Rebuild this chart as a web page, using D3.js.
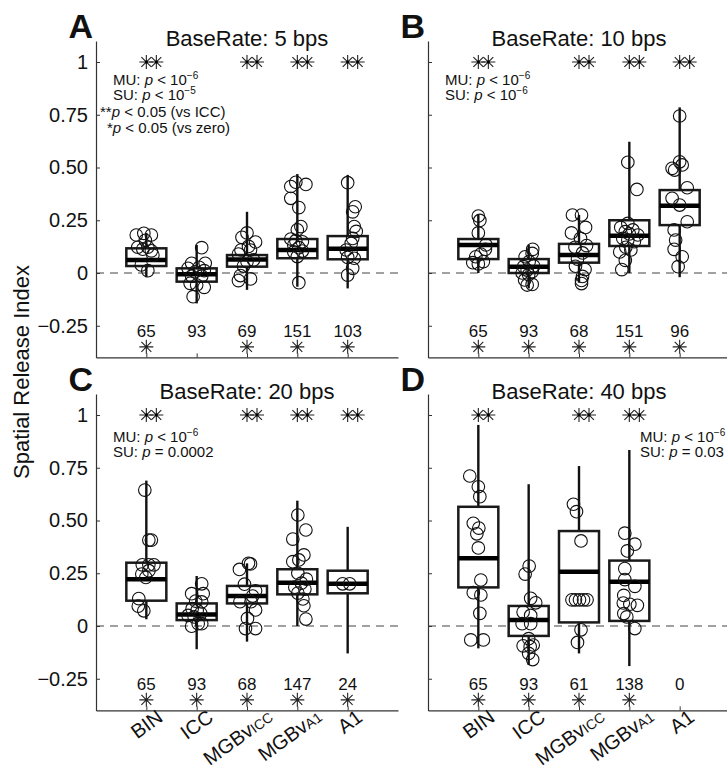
<!DOCTYPE html>
<html>
<head>
<meta charset="utf-8">
<script src="https://cdn.jsdelivr.net/npm/d3@7"></script>
<style>
  html, body { margin: 0; padding: 0; background: #fff; }
  svg { display: block; font-family: "Liberation Sans", Arial, Helvetica, sans-serif; }
</style>
</head>
<body>
<svg id="chart" width="727" height="765"></svg>
<script>
// ---- data ----
const categories = ["BIN", "ICC", "MGBvICC", "MGBvA1", "A1"];
const panelLetters = ["A", "B", "C", "D"];
const baseRates = [5, 10, 20, 40];
const yTicks = [-0.25, 0, 0.25, 0.5, 0.75, 1];

// number of units per area
const unitCounts = [
  [65, 93, 69, 151, 103],
  [65, 93, 68, 151, 96],
  [65, 93, 68, 147, 24],
  [65, 93, 61, 138, 0]
];
// ** : p < 0.05 vs ICC ; * : p < 0.05 vs zero
const sigVsIcc = [
  [1, 0, 1, 1, 1],
  [1, 0, 1, 1, 1],
  [1, 0, 1, 1, 1],
  [1, 0, 1, 1, 0]
];
const sigVsZero = [
  [1, 0, 1, 1, 1],
  [1, 1, 1, 1, 1],
  [1, 1, 1, 1, 1],
  [1, 1, 1, 1, 0]
];

// box summaries
const q1 = [
  [0.033, -0.041, 0.030, 0.070, 0.065],
  [0.066, 0.000, 0.049, 0.128, 0.227],
  [0.120, 0.028, 0.107, 0.150, 0.155],
  [0.183, -0.047, 0.017, 0.024, null]
];
const medians = [
  [0.062, -0.006, 0.064, 0.109, 0.115],
  [0.133, 0.030, 0.085, 0.177, 0.319],
  [0.221, 0.055, 0.142, 0.205, 0.200],
  [0.321, 0.028, 0.257, 0.210, null]
];
const q3 = [
  [0.117, 0.022, 0.085, 0.161, 0.175],
  [0.161, 0.066, 0.138, 0.250, 0.393],
  [0.300, 0.107, 0.190, 0.269, 0.262],
  [0.565, 0.095, 0.450, 0.310, null]
];
const whiskerLow = [
  [-0.020, -0.144, -0.080, -0.065, -0.073],
  [0.000, -0.073, -0.046, 0.000, -0.020],
  [0.032, -0.110, -0.074, 0.000, -0.130],
  [-0.106, -0.185, -0.130, -0.190, null]
];
const whiskerHigh = [
  [0.190, 0.133, 0.290, 0.469, 0.465],
  [0.275, 0.133, 0.275, 0.622, 0.785],
  [0.689, 0.237, 0.297, 0.594, 0.470],
  [0.953, 0.672, 0.758, 0.834, null]
];

// individual recording sites (values) and their horizontal jitter (category units)
const pointValues = [
  [
    [0.180, 0.188, 0.180, 0.155, 0.122, 0.113, 0.122, 0.105, 0.085, 0.038, 0.011],
    [0.120, 0.046, 0.046, 0.022, 0.027, 0.011, 0.006, -0.015, -0.015, -0.049, -0.057, -0.068, -0.112],
    [0.190, 0.169, 0.147, 0.126, 0.109, 0.109, 0.090, 0.062, 0.054, 0.033, -0.012, -0.028, -0.036],
    [0.410, 0.430, 0.420, 0.354, 0.310, 0.220, 0.205, 0.161, 0.153, 0.148, 0.132, 0.120, 0.100, 0.104, 0.078, -0.046],
    [0.428, 0.314, 0.290, 0.220, 0.197, 0.164, 0.140, 0.109, 0.093, 0.070, 0.074, 0.022, -0.010]
  ],
  [
    [0.270, 0.249, 0.190, 0.133, 0.112, 0.090, 0.077, 0.049, 0.043, 0.054],
    [0.112, 0.093, 0.077, 0.054, 0.030, 0.033, 0.014, 0.006, 0.000, -0.008, -0.033, -0.054, -0.057],
    [0.275, 0.275, 0.216, 0.190, 0.164, 0.122, 0.130, 0.095, 0.066, 0.032, 0.016, -0.016, -0.035, -0.050],
    [0.525, 0.396, 0.235, 0.216, 0.196, 0.204, 0.185, 0.180, 0.164, 0.156, 0.148, 0.122, 0.109, 0.100, 0.060, 0.016],
    [0.744, 0.527, 0.512, 0.496, 0.488, 0.404, 0.354, 0.322, 0.243, 0.204, 0.156, 0.112, 0.077, 0.030]
  ],
  [
    [0.644, 0.407, 0.407, 0.290, 0.290, 0.290, 0.262, 0.246, 0.230, 0.130, 0.094, 0.072],
    [0.200, 0.153, 0.153, 0.118, 0.114, 0.082, 0.074, 0.050, 0.043, 0.060, 0.011, 0.011, -0.001],
    [0.297, 0.294, 0.268, 0.198, 0.167, 0.142, 0.115, 0.115, 0.076, 0.036, -0.012, -0.012],
    [0.526, 0.455, 0.412, 0.337, 0.313, 0.305, 0.250, 0.222, 0.203, 0.184, 0.175, 0.156, 0.128, 0.096, 0.033],
    [0.200, 0.200]
  ],
  [
    [0.711, 0.660, 0.613, 0.487, 0.464, 0.437, 0.370, 0.218, 0.158, 0.147, 0.060, -0.066, -0.066],
    [0.284, 0.246, 0.131, 0.110, 0.066, 0.050, 0.011, 0.011, -0.060, -0.094, -0.098, -0.090, -0.130, -0.159],
    [0.577, 0.542, 0.403, 0.124, 0.124, 0.124, 0.124, 0.124, -0.018, -0.078],
    [0.440, 0.388, 0.356, 0.272, 0.220, 0.188, 0.145, 0.109, 0.103, 0.098, 0.059, 0.043, -0.012],
    []
  ]
];
const pointJitter = [
  [
    [-0.20, -0.05, 0.10, -0.02, -0.17, -0.07, 0.03, 0.10, 0.13, -0.10, 0.03],
    [0.10, -0.10, 0.17, -0.17, 0.05, 0.15, -0.03, -0.10, 0.10, -0.13, 0.00, 0.15, -0.07],
    [0.00, -0.10, 0.17, 0.03, -0.12, 0.07, -0.17, 0.13, 0.00, -0.07, -0.13, 0.07, -0.17],
    [-0.13, -0.03, 0.17, -0.13, 0.03, 0.07, 0.00, -0.13, -0.03, 0.10, -0.07, 0.03, -0.07, 0.10, 0.00, 0.03],
    [0.00, 0.15, 0.10, 0.13, 0.17, 0.10, 0.07, -0.03, 0.07, 0.13, 0.00, 0.10, 0.00]
  ],
  [
    [0.00, 0.03, 0.00, 0.15, 0.14, 0.05, -0.05, -0.11, 0.00, 0.10],
    [0.08, 0.07, -0.07, 0.01, -0.10, 0.10, -0.03, 0.07, -0.13, 0.00, -0.08, 0.07, -0.03],
    [-0.13, 0.05, 0.13, -0.15, 0.03, -0.08, 0.15, 0.07, -0.03, -0.07, 0.12, 0.07, 0.05, 0.05],
    [-0.03, 0.15, -0.03, -0.17, -0.08, 0.07, 0.00, 0.17, -0.13, -0.03, 0.10, -0.07, 0.03, -0.19, -0.08, -0.15],
    [0.00, 0.00, 0.05, -0.15, -0.10, 0.15, -0.15, 0.00, 0.15, -0.11, -0.08, -0.11, 0.05, -0.03]
  ],
  [
    [-0.03, 0.05, 0.10, -0.08, 0.05, 0.15, 0.05, -0.09, -0.01, -0.15, -0.16, -0.05],
    [0.10, -0.10, 0.13, -0.02, 0.10, -0.09, 0.01, -0.17, -0.05, 0.08, 0.03, 0.10, -0.10],
    [0.03, 0.07, -0.15, -0.05, 0.17, 0.11, -0.14, 0.08, 0.17, 0.01, -0.03, 0.17],
    [0.01, 0.17, -0.09, 0.13, 0.03, -0.09, 0.01, 0.18, 0.08, -0.05, 0.15, 0.01, 0.11, 0.13, 0.17],
    [-0.10, 0.04]
  ],
  [
    [-0.17, 0.00, 0.03, -0.10, 0.01, -0.03, 0.00, 0.05, -0.10, 0.05, 0.03, -0.15, 0.10],
    [0.01, -0.07, 0.04, 0.14, -0.11, 0.04, -0.13, 0.04, 0.00, -0.11, 0.03, 0.09, 0.00, 0.08],
    [-0.11, -0.05, 0.04, -0.14, -0.07, 0.01, 0.09, 0.16, 0.04, -0.03],
    [-0.09, 0.11, -0.04, -0.09, -0.09, 0.11, -0.11, -0.12, 0.01, 0.16, -0.11, -0.05, 0.11],
    []
  ]
];

// statistics printed in each panel
const muExponent = ["−6", "−6", "−6", "−6"];
const suRelation = ["<", "<", "=", "="];
const suValue = ["10", "10", "0.0002", "0.03"];
const suExponent = ["−5", "−6", "", ""];

// ---- layout ----
const svg = d3.select("#chart");
const colX = [96, 428];
const rowZero = [273, 626];
const unitPx = 211;
const panelW = 302;

function yTickText(v) {
  if (v === 0) return "0";
  if (v === 1) return "1";
  const s = d3.format(".2f")(Math.abs(v));
  return (v < 0 ? "\u2212" : "") + s;
}

function starPath(x, y, r) {
  const d = r * 0.7071;
  return `M${x - r},${y}H${x + r}M${x},${y - r}V${y + r}` +
         `M${x - d},${y - d}L${x + d},${y + d}M${x - d},${y + d}L${x + d},${y - d}`;
}

panelLetters.forEach((letter, p) => {
  const col = p % 2, row = Math.floor(p / 2);
  const x0 = colX[col];
  const z = rowZero[row];
  const x = d3.scaleLinear().domain([0, 6]).range([x0, x0 + panelW]);
  const y = d3.scaleLinear().domain([-0.4, 1.1]).range([z + 0.4 * unitPx, z - 1.1 * unitPx]);
  const g = svg.append("g");

  // zero reference
  g.append("line")
    .attr("x1", x(0)).attr("x2", x(6))
    .attr("y1", y(0)).attr("y2", y(0))
    .attr("stroke", "#444").attr("stroke-width", 1.2)
    .attr("stroke-dasharray", "8,6");

  // axes
  const yAxis = d3.axisLeft(y).tickValues(yTicks).tickSizeInner(-4).tickSizeOuter(0).tickPadding(8)
    .tickFormat(col === 0 ? yTickText : () => "");
  const ya = g.append("g").attr("transform", `translate(${x0},0)`).call(yAxis);
  ya.select(".domain").attr("stroke", "#333").attr("stroke-width", 1.2);
  ya.selectAll(".tick line").attr("stroke", "#333");
  ya.selectAll(".tick text").attr("font-size", 20).attr("fill", "#111")
    .attr("font-family", "'Liberation Sans', Arial, sans-serif");

  const xAxis = d3.axisBottom(x).tickValues([1, 2, 3, 4, 5]).tickSizeInner(-4).tickSizeOuter(0).tickFormat(() => "");
  const xa = g.append("g").attr("transform", `translate(0,${y(-0.4)})`).call(xAxis);
  xa.select(".domain").attr("stroke", "#333").attr("stroke-width", 1.2);
  xa.selectAll(".tick line").attr("stroke", "#333");

  // boxes
  categories.forEach((c, i) => {
    const cx = x(i + 1);
    if (medians[p][i] !== null) {
      g.append("line")
        .attr("x1", cx).attr("x2", cx)
        .attr("y1", y(whiskerLow[p][i])).attr("y2", y(whiskerHigh[p][i]))
        .attr("stroke", "#111").attr("stroke-width", 2.4);
      const bw = 40;
      g.append("rect")
        .attr("x", cx - bw / 2).attr("width", bw)
        .attr("y", y(q3[p][i])).attr("height", y(q1[p][i]) - y(q3[p][i]))
        .attr("fill", "#fff").attr("stroke", "#1a1a1a").attr("stroke-width", 2.5);
      g.append("line")
        .attr("x1", cx - bw / 2).attr("x2", cx + bw / 2)
        .attr("y1", y(medians[p][i])).attr("y2", y(medians[p][i]))
        .attr("stroke", "#000").attr("stroke-width", 4.5);
    }
    // sites
    g.selectAll(null)
      .data(pointValues[p][i].map((v, k) => ({ v, j: pointJitter[p][i][k] })))
      .join("circle")
      .attr("cx", d => x(i + 1 + d.j))
      .attr("cy", d => y(d.v))
      .attr("r", 6.3)
      .attr("fill", "none").attr("stroke", "#111").attr("stroke-width", 1.1);

    // significance markers
    if (sigVsIcc[p][i]) {
      [0, 10].forEach(dx => {
        g.append("path").attr("d", starPath(cx + dx, y(1), 7))
          .attr("stroke", "#222").attr("stroke-width", 1.1).attr("fill", "none");
        g.append("circle").attr("cx", cx + dx).attr("cy", y(1)).attr("r", 1.4).attr("fill", "#000");
      });
    }
    if (sigVsZero[p][i]) {
      g.append("path").attr("d", starPath(cx, y(-0.35), 7))
        .attr("stroke", "#222").attr("stroke-width", 1.1).attr("fill", "none");
    }
    g.append("text")
      .attr("x", cx).attr("y", y(-0.305))
      .attr("text-anchor", "middle").attr("font-size", 17).attr("fill", "#111")
      .text(unitCounts[p][i]);

    // category labels, slanted and centred under each tick
    if (row === 1) {
      const t = g.append("text")
        .attr("text-anchor", "middle").attr("font-size", 20).attr("fill", "#111");
      if (c.startsWith("MGBv")) {
        t.append("tspan").text("MGBv");
        t.append("tspan").attr("font-size", 14).text(c.slice(4));
      } else {
        t.text(c);
      }
      const L = t.node().getComputedTextLength();
      const px = cx + 11 - 0.2 * L;
      const py = y(-0.4) + 10 + 0.28 * L;
      t.attr("transform", `translate(${px},${py}) rotate(-36)`);
    }
  });

  // title and panel letter
  g.append("text")
    .attr("x", x(3)).attr("y", y(1) - 16)
    .attr("text-anchor", "middle").attr("font-size", 22).attr("fill", "#111")
    .text(`BaseRate: ${baseRates[p]} bps`);
  g.append("text")
    .attr("x", x0 - 3).attr("y", y(1) - 24)
    .attr("text-anchor", "end").attr("font-size", 34).attr("font-weight", "bold").attr("fill", "#111")
    .text(letter);

  // statistics
  const lx = x0 + (p === 3 ? 212 : 17);
  const ly = y(1) + (row === 0 ? 23 : 27);
  const mu = g.append("text").attr("x", lx).attr("y", ly).attr("font-size", 15).attr("fill", "#111");
  mu.append("tspan").text("MU: ");
  mu.append("tspan").attr("font-style", "italic").text("p");
  mu.append("tspan").text(" < 10");
  mu.append("tspan").attr("font-size", 10).attr("dy", -6).text(muExponent[p]);

  const su = g.append("text").attr("x", lx).attr("y", ly + 15).attr("font-size", 15).attr("fill", "#111");
  su.append("tspan").text("SU: ");
  su.append("tspan").attr("font-style", "italic").text("p");
  su.append("tspan").text(` ${suRelation[p]} ${suValue[p]}`);
  if (suExponent[p]) su.append("tspan").attr("font-size", 10).attr("dy", -6).text(suExponent[p]);

  if (p === 0) {
    const l3 = g.append("text").attr("x", lx - 13).attr("y", ly + 32).attr("font-size", 15).attr("fill", "#111");
    l3.append("tspan").text("**");
    l3.append("tspan").attr("font-style", "italic").text("p");
    l3.append("tspan").text(" < 0.05 (vs ICC)");
    const l4 = g.append("text").attr("x", lx - 6).attr("y", ly + 48).attr("font-size", 15).attr("fill", "#111");
    l4.append("tspan").text("*");
    l4.append("tspan").attr("font-style", "italic").text("p");
    l4.append("tspan").text(" < 0.05 (vs zero)");
  }
});

// shared y label
svg.append("text")
  .attr("transform", "translate(29,372) rotate(-90)")
  .attr("text-anchor", "middle").attr("font-size", 22).attr("fill", "#111")
  .text("Spatial Release Index");
</script>
</body>
</html>
